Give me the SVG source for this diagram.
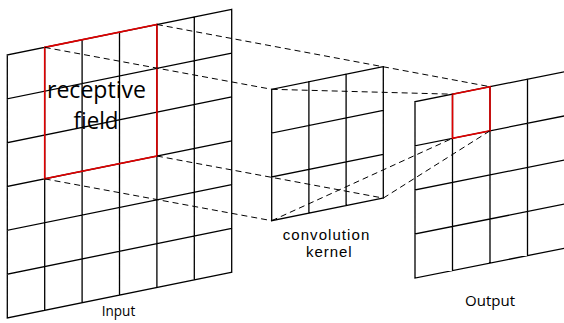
<svg xmlns="http://www.w3.org/2000/svg" width="564" height="323" viewBox="0 0 564 323">
<style>
.g{fill:none;stroke:#000;stroke-width:1.3;stroke-linecap:square}
.r{fill:none;stroke:#e00000;stroke-width:1.6;stroke-linejoin:miter}
.d{fill:none;stroke:#000;stroke-width:1;stroke-dasharray:6 4}
.t{font-family:"Open Sans","Liberation Sans",sans-serif;fill:#000;text-anchor:middle}
.s{font-family:"Liberation Sans","Open Sans",sans-serif;fill:#000;text-anchor:middle}
</style>
<rect width="564" height="323" fill="#fff"/>
<g id="input">
<path class="g" d="M7.3,55V318M44.7,47.38V310.38M82.1,39.76V302.76M119.5,32.14V295.14M156.9,24.52V287.52M194.3,16.9V279.9M231.7,9.28V272.28
M7.3,55L231.7,9.28M7.3,98.83L231.7,53.11M7.3,142.67L231.7,96.95M7.3,186.5L231.7,140.78M7.3,230.33L231.7,184.61M7.3,274.17L231.7,228.45M7.3,318L231.7,272.28"/>
<polygon class="r" points="44.7,47.38 156.9,24.52 156.9,156.02 44.7,178.88"/>
<text class="t" x="96.5" y="98.3" font-size="24" textLength="99" lengthAdjust="spacingAndGlyphs">receptive</text>
<text class="t" x="96" y="129.3" font-size="24" textLength="45" lengthAdjust="spacingAndGlyphs">field</text>
<text class="t" x="118.5" y="315.7" font-size="14" textLength="33.5" lengthAdjust="spacingAndGlyphs">Input</text>
</g>
<g id="kernel">
<path class="g" d="M271.7,89.3V220.7M308.9,81.76V213.16M346.1,74.22V205.62M383.3,66.68V198.08
M271.7,89.3L383.3,66.68M271.7,133.1L383.3,110.48M271.7,176.9L383.3,154.28M271.7,220.7L383.3,198.08"/>
<text class="s" x="326" y="240" font-size="15" textLength="86.5">convolution</text>
<text class="s" x="328.8" y="257.3" font-size="15" textLength="45.7">kernel</text>
</g>
<g id="output">
<path class="g" d="M415,101.7V278.1M452.5,94.2V270.6M490,86.7V263.1M527.5,79.2V255.6M565,71.7V248.1
M415,101.7L565,71.7M415,145.8L565,115.8M415,189.9L565,159.9M415,234L565,204M415,278.1L565,248.1"/>
<polygon class="r" points="452.5,94.2 490,86.7 490,130.8 452.5,138.3"/>
<text class="t" x="490" y="306" font-size="15" textLength="50" lengthAdjust="spacingAndGlyphs">Output</text>
</g>
<g id="connectors">
<path class="d" d="M156.9,24.52L490,86.7"/>
<path class="d" d="M44.7,47.38L271.7,89.3"/>
<path class="d" d="M271.7,89.3L452.5,94.2"/>
<path class="d" d="M156.9,156.02L383.3,198.08"/>
<path class="d" d="M44.7,178.88L271.7,220.7"/>
<path class="d" d="M271.7,220.7L452.5,138.3"/>
<path class="d" d="M383.3,198.08L490,130.8"/>
</g>
</svg>
